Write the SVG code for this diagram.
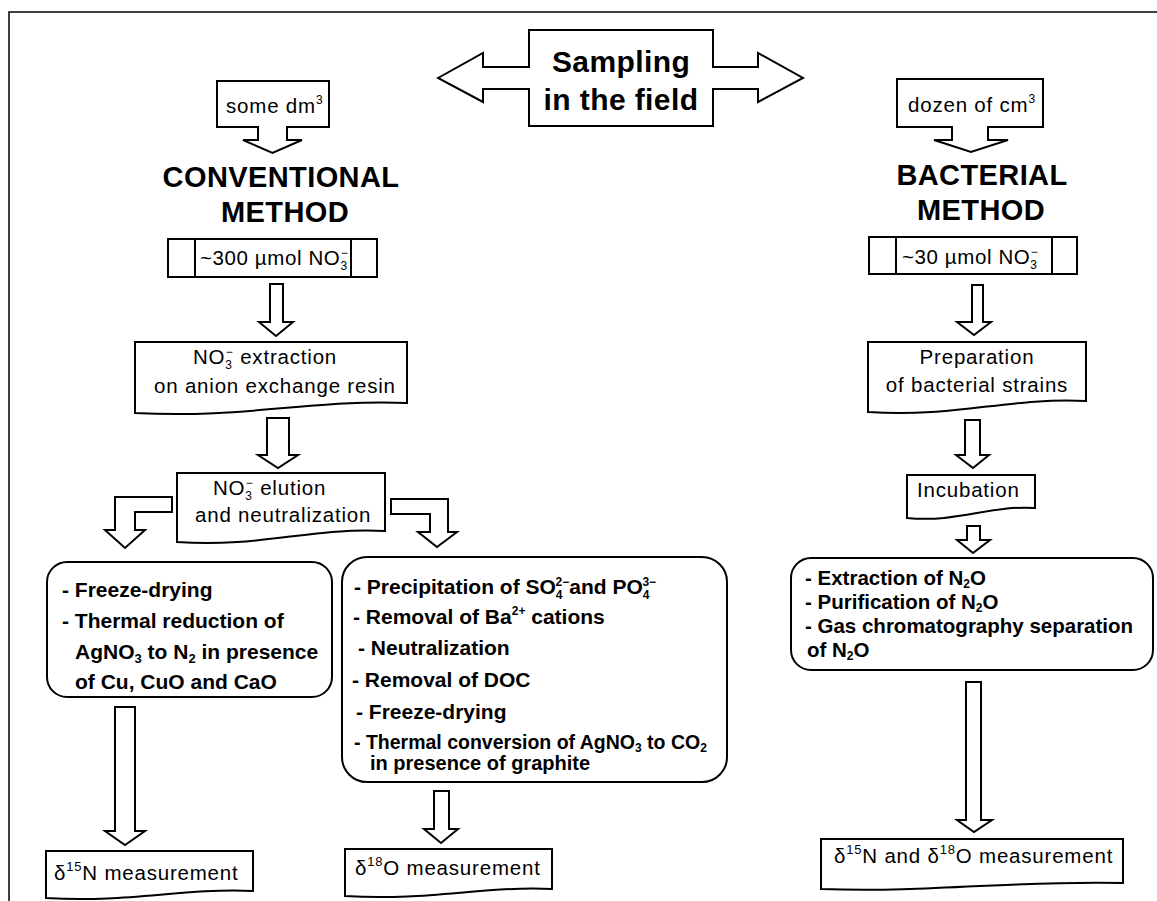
<svg xmlns="http://www.w3.org/2000/svg" width="1157" height="901" viewBox="0 0 1157 901">
<style>
.s{fill:#fff;stroke:#000;stroke-width:2;stroke-linejoin:miter}
.t{font-family:"Liberation Sans",Arial,sans-serif;font-size:20.5px;fill:#000;letter-spacing:0.8px}
.b{font-family:"Liberation Sans",Arial,sans-serif;font-size:21px;font-weight:bold;fill:#000}
.h{font-family:"Liberation Sans",Arial,sans-serif;font-size:29px;font-weight:bold;fill:#000;letter-spacing:0.4px;text-anchor:middle}
</style>
<rect width="1157" height="901" fill="#fff"/>
<path d="M9,901 V12 H1157" fill="none" stroke="#000" stroke-width="1.5"/>

<g id="sampling">
<path class="s" d="M438,78 L483,53 V67 H529 V30 H713 V67 H758 V53 L803,78 L758,102 V89 H713 V126 H529 V89 H483 V102 Z"/>
<text class="h" x="621" y="72" style="font-size:30px">Sampling</text>
<text class="h" x="621" y="110" style="font-size:30px">in the field</text>
</g>

<g id="some-dm3">
<path class="s" d="M217,81 H329 V127 H287 V140 H302 L272.5,153 L243,140 H258 V127 H217 Z"/>
<text class="t" x="226" y="113">some dm<tspan font-size="12" dy="-9">3</tspan></text>
</g>

<g id="dozen-cm3">
<path class="s" d="M897,79 H1043 V127 H988 V140 H1008 L971,152 L934,140 H952 V127 H897 Z"/>
<text class="t" x="908" y="112">dozen of cm<tspan font-size="12" dy="-9">3</tspan></text>
</g>

<g id="conventional-title">
<text class="h" x="281" y="187">CONVENTIONAL</text>
<text class="h" x="285" y="222">METHOD</text>
</g>

<g id="bacterial-title">
<text class="h" x="982" y="185">BACTERIAL</text>
<text class="h" x="981" y="220">METHOD</text>
</g>

<g id="conv-300">
<rect class="s" x="168" y="239" width="209" height="38"/>
<line x1="195" y1="239" x2="195" y2="277" stroke="#000" stroke-width="2"/>
<line x1="351" y1="239" x2="351" y2="277" stroke="#000" stroke-width="2"/>
<text class="t" x="200" y="265" style="letter-spacing:0.6px">~300 µmol NO<tspan font-size="12" dy="5">3</tspan><tspan font-size="12" dx="-7" dy="-13">−</tspan></text>
</g>

<g id="bact-30">
<rect class="s" x="869" y="237" width="208" height="37"/>
<line x1="896" y1="237" x2="896" y2="274" stroke="#000" stroke-width="2"/>
<line x1="1052" y1="237" x2="1052" y2="274" stroke="#000" stroke-width="2"/>
<text class="t" x="902" y="264" style="letter-spacing:0.6px">~30 µmol NO<tspan font-size="12" dy="5">3</tspan><tspan font-size="12" dx="-7" dy="-13">−</tspan></text>
</g>

<g id="extraction">
<path class="s" d="M135,342 H407 V403 C312,399 244,419 135,413 Z"/>
<text class="t" x="193" y="364">NO<tspan font-size="12" dy="5">3</tspan><tspan font-size="12" dx="-7" dy="-13">−</tspan><tspan dy="8"> extraction</tspan></text>
<text class="t" x="154" y="393">on anion exchange resin</text>
</g>

<g id="elution">
<path class="s" d="M177,473 H385 V531 C312,527 260,548 177,542 Z"/>
<text class="t" x="213" y="495">NO<tspan font-size="12" dy="5">3</tspan><tspan font-size="12" dx="-7" dy="-13">−</tspan><tspan dy="8"> elution</tspan></text>
<text class="t" x="195" y="522">and neutralization</text>
</g>

<g id="preparation">
<path class="s" d="M868,342 H1086 V401 C1010,397 955,418 868,412 Z"/>
<text class="t" x="977" y="364" text-anchor="middle">Preparation</text>
<text class="t" x="977" y="392" text-anchor="middle">of bacterial strains</text>
</g>

<g id="incubation">
<path class="s" d="M907,475 H1035 V508 C990,505 958,523 907,518 Z"/>
<text class="t" x="917" y="497">Incubation</text>
</g>

<g id="freeze-box">
<rect class="s" x="47" y="562" width="285" height="135" rx="20"/>
<text class="b" x="62" y="597">- Freeze-drying</text>
<text class="b" x="62" y="628">- Thermal reduction of</text>
<text class="b" x="75" y="659">AgNO<tspan font-size="13" dy="4">3</tspan><tspan dy="-4"> to N</tspan><tspan font-size="13" dy="4">2</tspan><tspan dy="-4"> in presence</tspan></text>
<text class="b" x="75" y="689">of Cu, CuO and CaO</text>
</g>

<g id="precip-box">
<rect class="s" x="342" y="557" width="385" height="225" rx="25"/>
<text class="b" x="354" y="594">- Precipitation of SO<tspan font-size="12" dy="5">4</tspan><tspan font-size="12" dx="-7" dy="-13">2−</tspan><tspan dy="8">and PO</tspan><tspan font-size="12" dy="5">4</tspan><tspan font-size="12" dx="-7" dy="-13">3−</tspan></text>
<text class="b" x="353" y="624">- Removal of Ba<tspan font-size="12" dy="-9">2+</tspan><tspan dy="9"> cations</tspan></text>
<text class="b" x="358" y="655">- Neutralization</text>
<text class="b" x="352" y="687">- Removal of DOC</text>
<text class="b" x="356" y="719">- Freeze-drying</text>
<text class="b" x="354" y="749" style="font-size:19.5px">- Thermal conversion of AgNO<tspan font-size="12" dy="3">3</tspan><tspan dy="-3"> to CO</tspan><tspan font-size="12" dy="3">2</tspan></text>
<text class="b" x="370" y="770" style="font-size:20px">in presence of graphite</text>
</g>

<g id="n2o-box">
<rect class="s" x="791" y="558" width="362" height="112" rx="20"/>
<text class="b" x="805" y="585" style="font-size:20.5px">- Extraction of N<tspan font-size="12" dy="3">2</tspan><tspan dy="-3">O</tspan></text>
<text class="b" x="805" y="609" style="font-size:20.5px">- Purification of N<tspan font-size="12" dy="3">2</tspan><tspan dy="-3">O</tspan></text>
<text class="b" x="805" y="633" style="font-size:20.5px">- Gas chromatography separation</text>
<text class="b" x="807" y="657" style="font-size:20.5px">of N<tspan font-size="12" dy="3">2</tspan><tspan dy="-3">O</tspan></text>
</g>

<g id="d15n">
<path class="s" d="M46,851 H253 V891 C180,888 130,903 46,898 Z"/>
<text class="t" x="54" y="880">δ<tspan font-size="13" dy="-9">15</tspan><tspan dy="9">N measurement</tspan></text>
</g>

<g id="d18o">
<path class="s" d="M345,849 H552 V889 C480,886 430,901 345,896 Z"/>
<text class="t" x="355" y="875">δ<tspan font-size="13" dy="-9">18</tspan><tspan dy="9">O measurement</tspan></text>
</g>

<g id="d15n-d18o">
<path class="s" d="M821,839 H1123 V883 C1020,880 930,893 821,889 Z"/>
<text class="t" x="834" y="863">δ<tspan font-size="13" dy="-9">15</tspan><tspan dy="9">N and δ</tspan><tspan font-size="13" dy="-9">18</tspan><tspan dy="9">O measurement</tspan></text>
</g>

<g id="connectors">
<path class="s" d="M270,284 H283 V322 H293 L276,336 L259,322 H270 Z"/>
<path class="s" d="M267,418 H289 V455 H298 L278,468 L258,455 H267 Z"/>
<path class="s" d="M172,497 H115 V530 H105 L125,548 L145,530 H135 V512 H172 Z"/>
<path class="s" d="M391,499 H448 V532 H457 L437,547 L418,532 H430 V514 H391 Z"/>
<path class="s" d="M115,707 H135 V831 H145 L125,845 L105,831 H115 Z"/>
<path class="s" d="M434,791 H449 V829 H458 L441,843 L424,829 H434 Z"/>
<path class="s" d="M972,285 H983 V322 H991 L974,335 L957,322 H972 Z"/>
<path class="s" d="M965,420 H980 V455 H989 L973,468 L956,455 H965 Z"/>
<path class="s" d="M967,526 H980 V540 H990 L973,553 L957,540 H967 Z"/>
<path class="s" d="M966,682 H981 V820 H992 L974,832 L957,820 H966 Z"/>
</g>
</svg>
